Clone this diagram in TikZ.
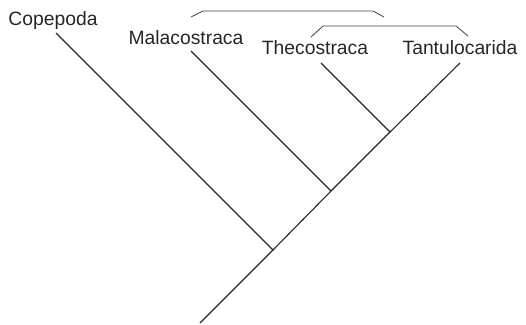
\documentclass[tikz,border=0pt]{standalone}
\usepackage{fontspec}
\setmainfont{Liberation Sans}
\begin{document}
\begin{tikzpicture}[x=1pt,y=-1pt,
  taxon/.style={anchor=base,inner sep=0pt,font=\fontsize{19.3}{23}\selectfont,text=black!85},
  branch/.style={line width=1.1pt,draw=black!85},
  bracket/.style={line width=0.8pt,draw=black!75}]
\useasboundingbox (0,0) rectangle (526,324);
% labels
\node[taxon] (cop) at (53,25) {Copepoda};
\node[taxon] (mal) at (186,44) {Malacostraca};
\node[taxon] (the) at (315,54) {Thecostraca};
\node[taxon] (tan) at (460,54) {Tantulocarida};
% tree points
\coordinate (root) at (200,323);
\coordinate (n1) at (273,250);
\coordinate (n2) at (331,191);
\coordinate (n3) at (390,132);
\coordinate (tcop) at (56,33);
\coordinate (tmal) at (191,51);
\coordinate (tthe) at (321,63);
\coordinate (ttan) at (460,63);
% branches
\draw[branch] (root) -- (n1) -- (n2) -- (n3) -- (ttan);
\draw[branch] (tcop) -- (n1);
\draw[branch] (tmal) -- (n2);
\draw[branch] (tthe) -- (n3);
% brackets
\coordinate (ua) at (191,17);
\coordinate (ub) at (203,11);
\coordinate (uc) at (373,11);
\coordinate (ud) at (384,17);
\coordinate (la) at (311,37);
\coordinate (lb) at (323,26);
\coordinate (lc) at (456,26);
\coordinate (ld) at (468,36);
\draw[bracket] (ua) -- (ub) -- (uc) -- (ud);
\draw[bracket] (la) -- (lb) -- (lc) -- (ld);
\end{tikzpicture}
\end{document}
